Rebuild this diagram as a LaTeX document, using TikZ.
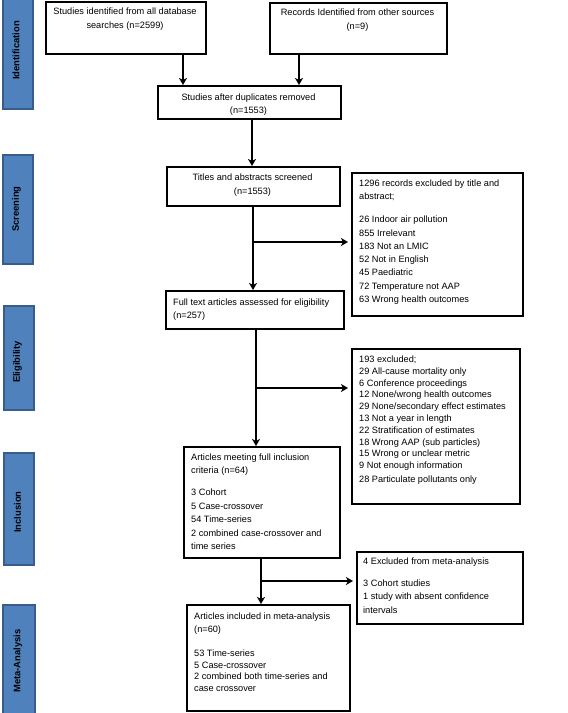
\documentclass[tikz,border=0pt]{standalone}
\usepackage{fontspec}
\setmainfont{Liberation Sans}
\usetikzlibrary{arrows.meta}
\definecolor{sidefill}{RGB}{79,129,189}
\definecolor{sidedraw}{RGB}{56,93,138}
\begin{document}
\begin{tikzpicture}[x=1pt,y=-1pt,
  box/.style={draw=black, line width=2pt, inner sep=0pt, anchor=north west},
  sidebox/.style={draw=sidedraw, fill=sidefill, line width=1.6pt, inner sep=0pt, anchor=north west},
  sidelabel/.style={rotate=90, font=\fontsize{9.4}{11}\selectfont\bfseries, inner sep=0pt},
  txt/.style={inner sep=0pt, font=\fontsize{9.2}{13}\selectfont},
  ctxt/.style={txt, align=center, anchor=north},
  ltxt/.style={txt, align=left, anchor=north west},
  arr/.style={line width=1.8pt, -{Stealth[length=7pt,width=8pt,inset=2pt]}}
]
\useasboundingbox (0,0) rectangle (568,713);
% side phase boxes
\node[sidebox, minimum width=30pt, minimum height=110pt] (s1) at (2,-2) {};
\node[sidelabel] (l1) at (16,50.5) {Identification};
\node[sidebox, minimum width=30pt, minimum height=109pt] (s2) at (2,154) {};
\node[sidelabel] (l2) at (16.5,209) {Screening};
\node[sidebox, minimum width=30pt, minimum height=104pt] (s3) at (3,305) {};
\node[sidelabel] (l3) at (17.5,362) {Eligibility};
\node[sidebox, minimum width=30pt, minimum height=112pt] (s4) at (3,452) {};
\node[sidelabel] (l4) at (17.5,512) {Inclusion};
\node[sidebox, minimum width=32pt, minimum height=112pt] (s5) at (2,604) {};
\node[sidelabel] (l5) at (18,661) {Meta-Analysis};

% main boxes
\node[box, minimum width=160pt, minimum height=52pt] (b1) at (45,1) {};
\node[ctxt, font=\fontsize{9.2}{14}\selectfont] (t1) at (125,7.6) {Studies identified from all database\\searches (n=2599)};
\node[box, minimum width=177pt, minimum height=51pt] (b2) at (269,2) {};
\node[ctxt, font=\fontsize{9.2}{14}\selectfont] (t2) at (357.5,8.6) {Records Identified from other sources\\(n=9)};
\node[box, minimum width=183pt, minimum height=33pt] (b3) at (157,85) {};
\node[ctxt] (t3) at (248.5,93.6) {Studies after duplicates removed\\(n=1553)};
\node[box, minimum width=173pt, minimum height=39pt] (b4) at (166,166) {};
\node[ctxt, font=\fontsize{9.2}{14}\selectfont] (t4) at (252.5,173.6) {Titles and abstracts screened\\(n=1553)};
\node[box, minimum width=178pt, minimum height=38pt] (b5) at (165,290) {};
\node[ltxt] (t5) at (173,298.6) {Full text articles assessed for eligibility\\(n=257)};
\node[box, minimum width=171pt, minimum height=143pt] (b6) at (351,172) {};
\node[ltxt, font=\fontsize{9.2}{13.3}\selectfont] (t6) at (359,179.6) {1296 records excluded by title and\\abstract;\\[9.7pt]26 Indoor air pollution\\855 Irrelevant\\183 Not an LMIC\\52 Not in English\\45 Paediatric\\72 Temperature not AAP\\63 Wrong health outcomes};
\node[box, minimum width=168pt, minimum height=155pt] (b8) at (351,348) {};
\node[ltxt, font=\fontsize{9.2}{11.8}\selectfont] (t8) at (359,355.6) {193 excluded;\\29 All-cause mortality only\\6 Conference proceedings\\12 None/wrong health outcomes\\29 None/secondary effect estimates\\13 Not a year in length\\22 Stratification of estimates\\18 Wrong AAP (sub particles)\\15 Wrong or unclear metric\\9 Not enough information\\[2pt]28 Particulate pollutants only};
\node[box, minimum width=156pt, minimum height=111pt] (b7) at (183,446) {};
\node[ltxt, font=\fontsize{9.2}{13.4}\selectfont] (t7) at (191,453.6) {Articles meeting full inclusion\\criteria (n=64)\\[8.6pt]3 Cohort\\5 Case-crossover\\54 Time-series\\2 combined case-crossover and\\time series};
\node[box, minimum width=166pt, minimum height=72pt] (b10) at (356,551) {};
\node[ltxt, font=\fontsize{9.2}{13.3}\selectfont] (t10) at (363,557.6) {4 Excluded from meta-analysis\\[8.7pt]3 Cohort studies\\1 study with absent confidence\\intervals};
\node[box, minimum width=163pt, minimum height=106pt] (b9) at (186,604) {};
\node[ltxt, font=\fontsize{9.2}{11.8}\selectfont] (t9) at (194,612.6) {Articles included in meta-analysis\\[1.2pt](n=60)\\[12pt]53 Time-series\\5 Case-crossover\\2 combined both time-series and\\case crossover};

% connector positions
\coordinate (c1) at (183,0);
\coordinate (c2) at (299,0);
\coordinate (c3) at (252,0);
\coordinate (c4) at (253,0);
\coordinate (c5) at (256,0);
\coordinate (c7) at (261,0);
\coordinate (j4) at (253,242);
\coordinate (j5) at (256,388);
\coordinate (j7) at (261,581);

\draw[arr] (b1.south -| c1) -- (b3.north -| c1);
\draw[arr] (b2.south -| c2) -- (b3.north -| c2);
\draw[arr] (b3.south -| c3) -- (b4.north -| c3);
\draw[arr] (b4.south -| c4) -- (b5.north -| c4);
\draw[arr, shorten >=3pt] (j4) -- (j4 -| b6.west);
\draw[arr] (b5.south -| c5) -- (b7.north -| c5);
\draw[arr, shorten >=3pt] (j5) -- (j5 -| b8.west);
\draw[arr] (b7.south -| c7) -- (b9.north -| c7);
\draw[arr, shorten >=3pt] (j7) -- (j7 -| b10.west);
\end{tikzpicture}
\end{document}
